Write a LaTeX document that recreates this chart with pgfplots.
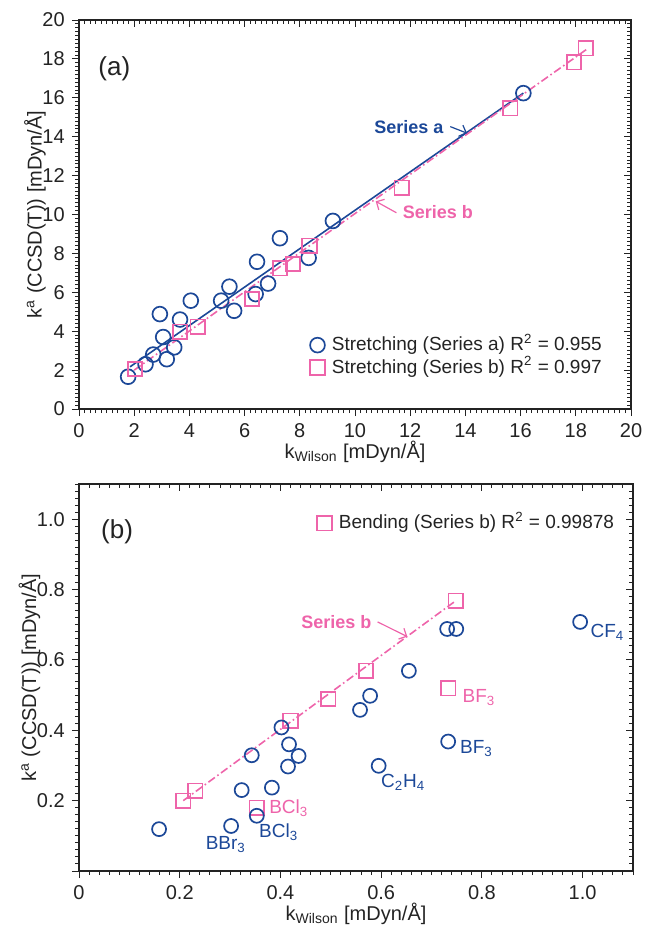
\documentclass[border=0pt]{standalone}
\usepackage{fontspec}
\setmainfont{Liberation Sans}
\usepackage{pgfplots}
\pgfplotsset{compat=1.18}
\usetikzlibrary{arrows.meta}
\definecolor{sblue}{RGB}{28,72,152}
\definecolor{spink}{RGB}{238,100,170}
\definecolor{tgray}{RGB}{35,35,35}

\pgfplotsset{
  base/.style={
    scale only axis,
    axis line style={line width=0.7pt, tgray},
    every tick/.style={line width=0.5pt, tgray},
    major tick length=3.6pt, minor tick length=2pt,
    ticklabel style={font=\fontsize{10}{12}\selectfont, text=tgray},
    label style={font=\fontsize{10}{12}\selectfont, text=tgray},
    xlabel shift=-5pt, ylabel shift=-8.5pt,
  },
  frontticks/.style={
    tick align=outside, xtick pos=left, ytick pos=left,
  },
  backticks/.style={
    tick align=inside, xtick pos=right, ytick pos=right,
    xticklabels={}, yticklabels={},
  },
  legstyle/.style={
    legend style={draw=none, fill=none, inner sep=0pt, row sep=0.6pt,
      font=\fontsize{9.5}{11}\selectfont, text=tgray,
      nodes={inner sep=0pt, text height=8.2pt, text depth=2.4pt},
      /tikz/every odd column/.append style={column sep=3pt}},
    legend cell align=left,
    legend image code/.code={\path (0pt,0pt) (9pt,0pt); \draw[##1] plot coordinates {(5pt,0pt)};},
  },
  sera/.style={only marks, mark=o, mark size=3.7pt, mark options={line width=0.85pt, draw=sblue}, draw=sblue},
  serb/.style={only marks, mark=square, mark size=3.6pt, mark options={line width=0.85pt, draw=spink}, draw=spink},
}

\begin{document}
\begin{tikzpicture}
\useasboundingbox (0,0) rectangle (324pt,-463pt);

% ---------------- panel (a) ----------------
\begin{axis}[base, frontticks, legstyle,
  at={(39.5pt,-204.5pt)}, anchor=south west,
  width=276pt, height=194.5pt,
  xmin=0, xmax=20, ymin=0, ymax=20,
  xtick={0,2,...,20}, ytick={0,2,...,20},
  xticklabels={0,2,4,6,8,10,12,14,16,18,20},
  yticklabels={0,2,4,6,8,10,12,14,16,18,20},
  minor x tick num=9, minor y tick num=9,
  xlabel={k\textsubscript{Wilson} [mDyn/Å]},
  ylabel={k\textsuperscript{a} (CCSD(T)) [mDyn/Å]},
  legend style={at={(axis cs:8.25,3.85)}, anchor=north west},
]
\addplot[sera] table {
x y
1.78 1.66
2.41 2.30
2.69 2.80
3.18 2.56
3.45 3.17
3.05 3.70
2.93 4.88
3.66 4.60
4.05 5.57
5.15 5.57
5.45 6.29
5.62 5.05
6.45 7.57
6.40 5.91
6.85 6.45
7.28 8.78
8.32 7.77
9.20 9.67
16.10 16.24
};
\addlegendentry{Stretching (Series a) R\textsuperscript{2} = 0.955}
\addplot[serb] table {
x y
2.03 2.05
3.66 3.97
4.30 4.23
6.27 5.66
7.28 7.23
7.75 7.45
8.35 8.40
11.69 11.38
15.63 15.46
17.94 17.82
18.36 18.54
};
\addlegendentry{Stretching (Series b) R\textsuperscript{2} = 0.997}
\addplot[sblue, line width=0.8pt, forget plot] coordinates {(1.85,2.17) (16.10,16.24)};
\addplot[spink, line width=0.8pt, dash pattern=on 4pt off 1.5pt on 0.8pt off 1.5pt, forget plot]
  coordinates {(2.0,2.0) (18.40,18.50)};
\node[anchor=west, font=\fontsize{13}{15}\selectfont, text=tgray] at (axis cs:0.45,17.5) {(a)};
\node[font=\bfseries\fontsize{9}{11}\selectfont, text=sblue] at (axis cs:11.95,14.5) {Series a};
\draw[sblue, line width=0.6pt, -{Straight Barb[length=3pt]}] (axis cs:13.45,14.52) -- (axis cs:14.06,14.18);
\node[font=\bfseries\fontsize{9}{11}\selectfont, text=spink] at (axis cs:13.0,10.15) {Series b};
\draw[spink, line width=0.6pt, -{Straight Barb[length=3pt]}] (axis cs:11.5,10.09) -- (axis cs:10.75,10.68);
\end{axis}
\begin{axis}[base, backticks,
  at={(39.5pt,-204.5pt)}, anchor=south west,
  width=276pt, height=194.5pt,
  xmin=0, xmax=20, ymin=0, ymax=20,
  xtick={0,2,...,20}, ytick={0,2,...,20},
  minor x tick num=9, minor y tick num=9,
]
\addplot[draw=none, forget plot] coordinates {(0,0)};
\end{axis}

% ---------------- panel (b) ----------------
\begin{axis}[base, frontticks, legstyle,
  at={(39.5pt,-435.5pt)}, anchor=south west,
  width=277pt, height=193.5pt,
  xmin=0, xmax=1.1, ymin=0, ymax=1.1,
  xtick={0,0.2,0.4,0.6,0.8,1.0,1.2}, ytick={0,0.2,0.4,0.6,0.8,1.0,1.2},
  xticklabels={0,0.2,0.4,0.6,0.8,1.0,1.2},
  yticklabels={,0.2,0.4,0.6,0.8,1.0,1.2},
  minor x tick num=9, minor y tick num=9,
  xlabel={k\textsubscript{Wilson} [mDyn/Å]},
  ylabel={k\textsuperscript{a} (CCSD(T)) [mDyn/Å]},
  legend style={at={(axis cs:0.466,1.02)}, anchor=north west},
]
\addplot[serb, mark size=3.6pt] table {
x y
0.207 0.200
0.231 0.228
0.420 0.427
0.495 0.489
0.570 0.569
0.748 0.768
0.353 0.180
0.733 0.519
};
\addlegendentry{Bending (Series b) R\textsuperscript{2} = 0.99878}
\addplot[sera, mark size=3.5pt, forget plot] table {
x y
0.159 0.119
0.302 0.128
0.353 0.157
0.323 0.230
0.383 0.237
0.343 0.329
0.402 0.408
0.417 0.360
0.436 0.327
0.415 0.297
0.558 0.458
0.578 0.498
0.655 0.569
0.595 0.299
0.731 0.688
0.749 0.688
0.733 0.368
0.995 0.708
};
\addplot[spink, line width=0.8pt, dash pattern=on 4pt off 1.5pt on 0.8pt off 1.5pt, forget plot]
  coordinates {(0.207,0.200) (0.748,0.768)};
\node[anchor=west, font=\fontsize{13}{15}\selectfont, text=tgray] at (axis cs:0.03,0.965) {(b)};
\node[font=\bfseries\fontsize{9}{11}\selectfont, text=spink] at (axis cs:0.511,0.708) {Series b};
\draw[spink, line width=0.6pt, -{Straight Barb[length=3pt]}] (axis cs:0.593,0.708) -- (axis cs:0.652,0.666);
\begin{scope}[every node/.style={anchor=west, font=\fontsize{9.5}{11}\selectfont, inner sep=0pt}]
\node[text=sblue] at (axis cs:1.015,0.679) {CF\textsubscript{4}};
\node[text=spink] at (axis cs:0.761,0.494) {BF\textsubscript{3}};
\node[text=sblue] at (axis cs:0.756,0.347) {BF\textsubscript{3}};
\node[text=sblue] at (axis cs:0.599,0.253) {C\textsubscript{2}H\textsubscript{4}};
\node[text=spink] at (axis cs:0.377,0.179) {BCl\textsubscript{3}};
\node[text=sblue] at (axis cs:0.357,0.111) {BCl\textsubscript{3}};
\node[text=sblue] at (axis cs:0.251,0.074) {BBr\textsubscript{3}};
\end{scope}
\end{axis}
\begin{axis}[base, backticks,
  at={(39.5pt,-435.5pt)}, anchor=south west,
  width=277pt, height=193.5pt,
  xmin=0, xmax=1.1, ymin=0, ymax=1.1,
  xtick={0,0.2,0.4,0.6,0.8,1.0,1.2}, ytick={0,0.2,0.4,0.6,0.8,1.0,1.2},
  minor x tick num=9, minor y tick num=9,
]
\addplot[draw=none, forget plot] coordinates {(0,0)};
\end{axis}
\end{tikzpicture}
\end{document}
